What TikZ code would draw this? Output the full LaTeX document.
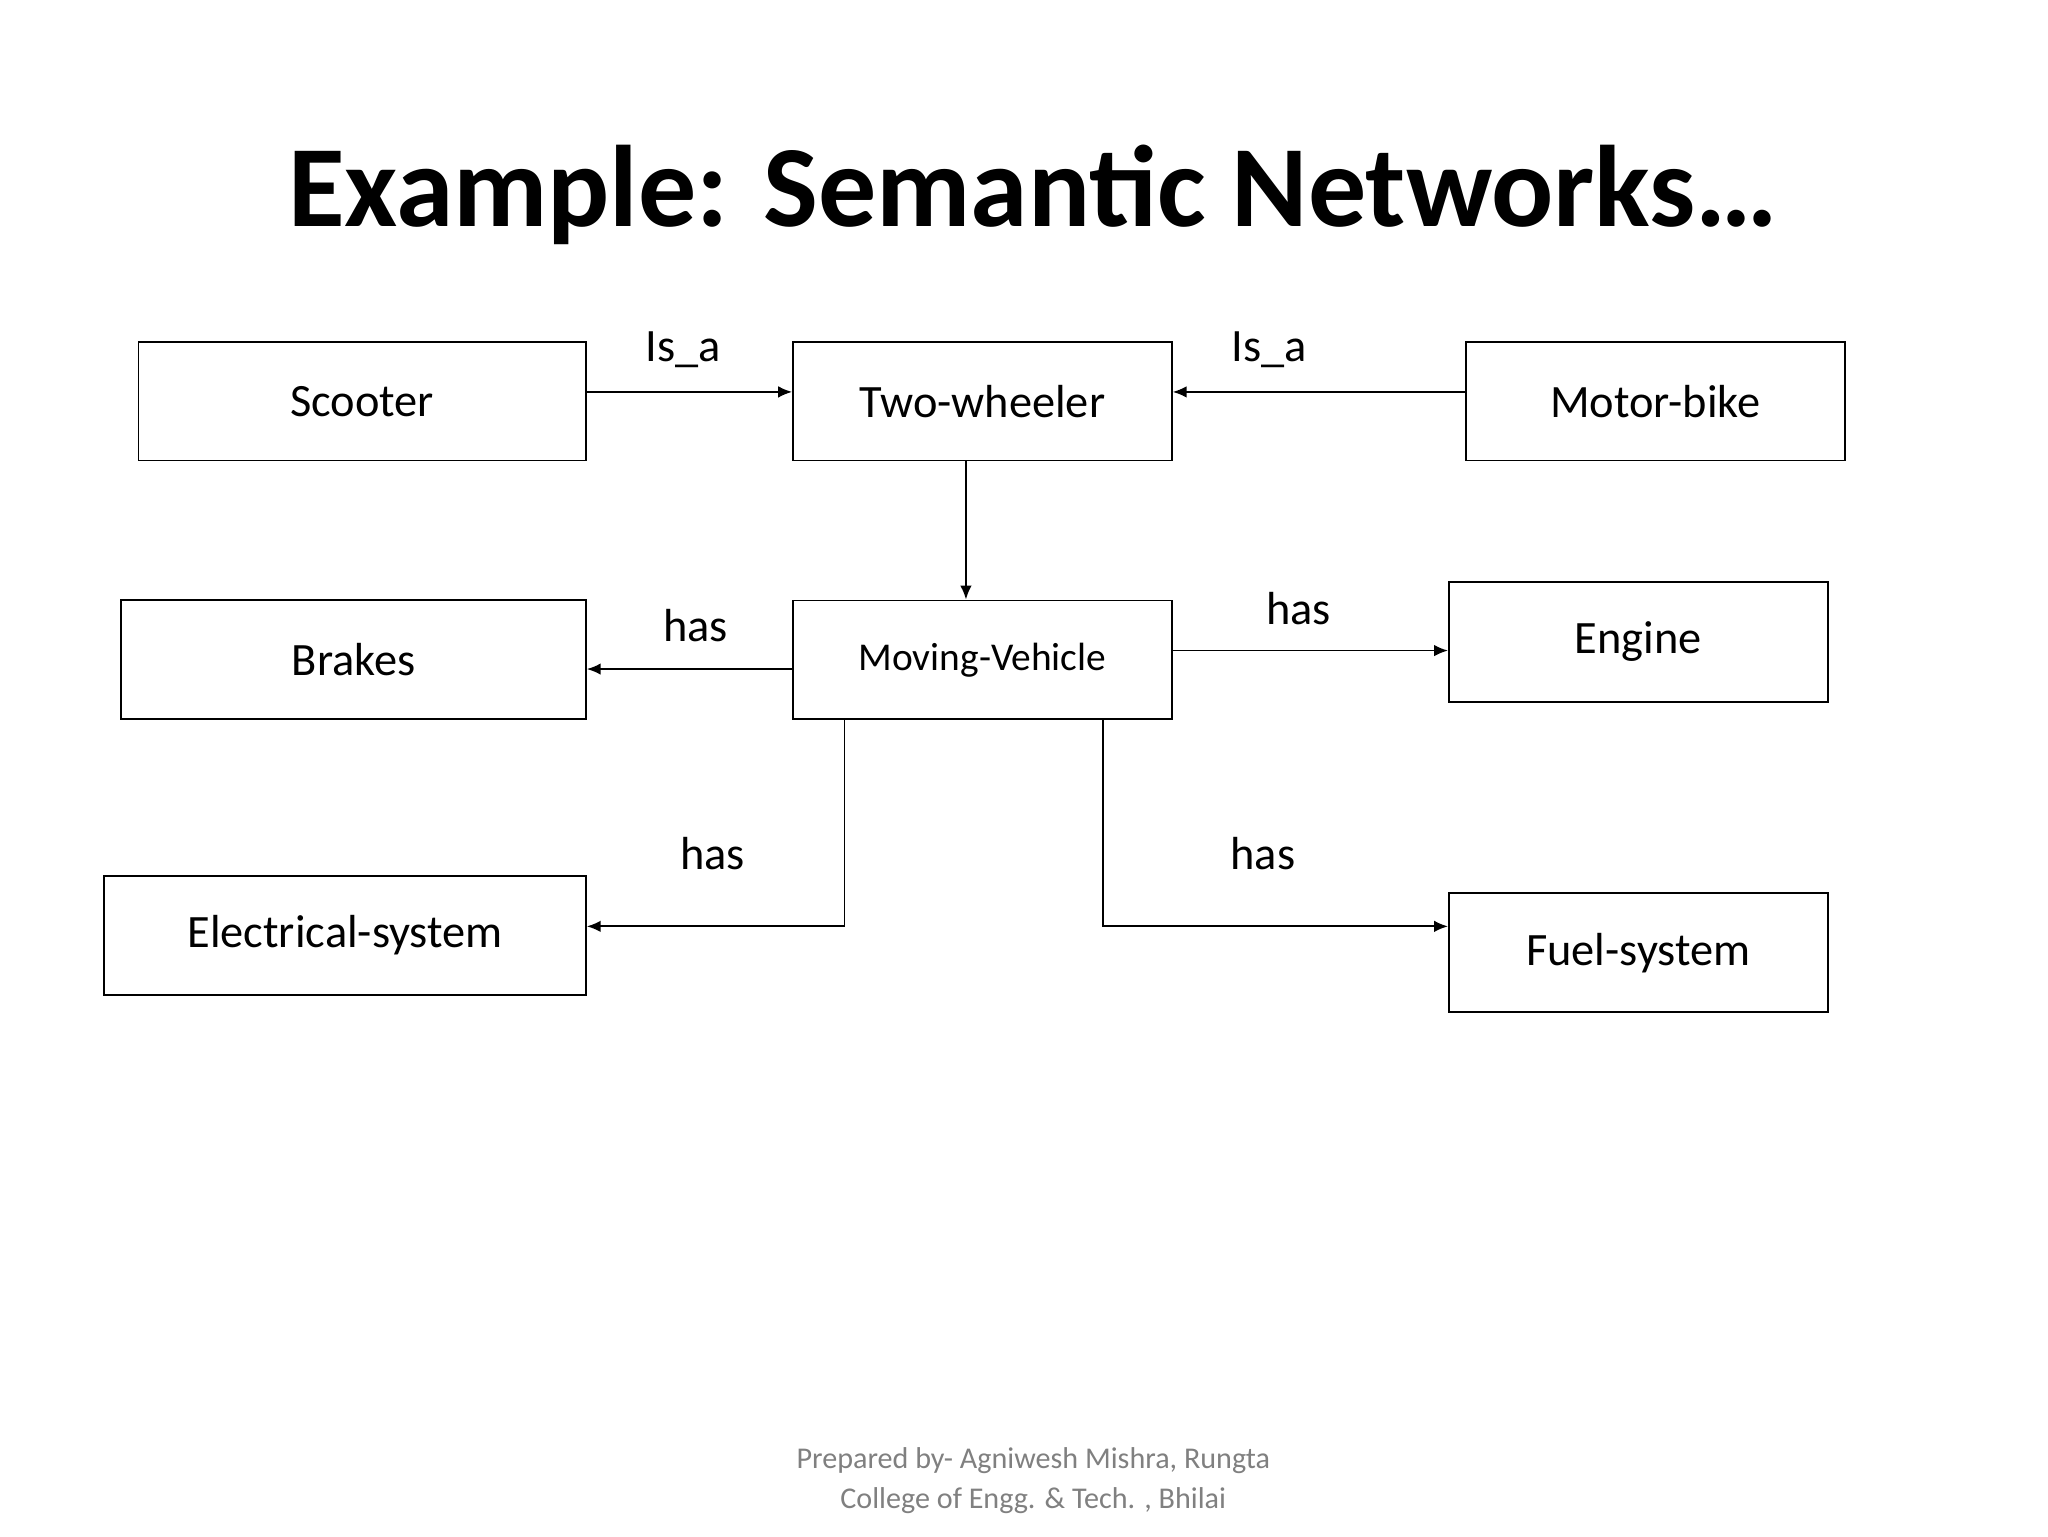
\documentclass[tikz,border=0pt]{standalone}
\usepackage{fontspec}
\setmainfont{Carlito}
\usetikzlibrary{arrows.meta}
\begin{document}
\begin{tikzpicture}[x=0.02cm,y=-0.02cm,
  box/.style={draw,line width=0.8pt,inner sep=0pt,font=\fontsize{20}{24}\selectfont},
  lab/.style={font=\fontsize{20}{24}\selectfont},
  arr/.style={line width=0.8pt,-{Latex[length=6pt,width=5pt]}}]
\useasboundingbox (0,0) rectangle (1552,1164);
\node[font=\bfseries\fontsize{50}{60}\selectfont] (title) at (783,148) {Example: Semantic Networks…};
\newcommand{\bx}[6]{\node[box,minimum width={(#4-#2)*0.02cm},minimum height={(#5-#3)*0.02cm}] (#1) at ({(#2+#4)/2},{(#3+#5)/2}) {#6};}
\bx{sc}{105}{259}{444}{349}{Scooter}
\bx{tw}{601}{259}{888}{349}{Two-wheeler}
\bx{mb}{1111}{259}{1398}{349}{Motor-bike}
\bx{br}{92}{455}{444}{545}{Brakes}
\node[box,minimum width=5.74cm,minimum height=1.8cm,font=\fontsize{17}{20}\selectfont] (mv) at (744.5,500) {Moving-Vehicle};
\bx{en}{1098}{441}{1385}{532}{Engine}
\bx{el}{79}{664}{444}{754}{Electrical-system}
\bx{fu}{1098}{677}{1385}{767}{Fuel-system}
\draw[arr] (sc.east |- 0,297) -- (tw.west |- 0,297);
\draw[arr] (mb.west |- 0,297) -- (tw.east |- 0,297);
\draw[arr] (tw.south -| 732,0) -- (mv.north -| 732,0);
\draw[arr] (mv.west |- 0,507) -- (br.east |- 0,507);
\draw[arr] (mv.east |- 0,493) -- (en.west |- 0,493);
\coordinate (c1) at (640,702);
\coordinate (c2) at (836,702);
\draw[arr] (mv.south -| c1) -- (c1) -- (el.east |- c1);
\draw[arr] (mv.south -| c2) -- (c2) -- (fu.west |- c2);
\node[lab] (l1) at (518,265) {Is\_a};
\node[lab] (l2) at (962,265) {Is\_a};
\node[lab] (l3) at (527,474) {has};
\node[lab] (l4) at (984,461) {has};
\node[lab] (l5) at (540,647) {has};
\node[lab] (l6) at (957,647) {has};
\node[text=gray,font=\fontsize{13}{17}\selectfont,align=center] (ft) at (783,1122) {Prepared by- Agniwesh Mishra, Rungta\\College of Engg. \& Tech. , Bhilai};
\end{tikzpicture}
\end{document}
